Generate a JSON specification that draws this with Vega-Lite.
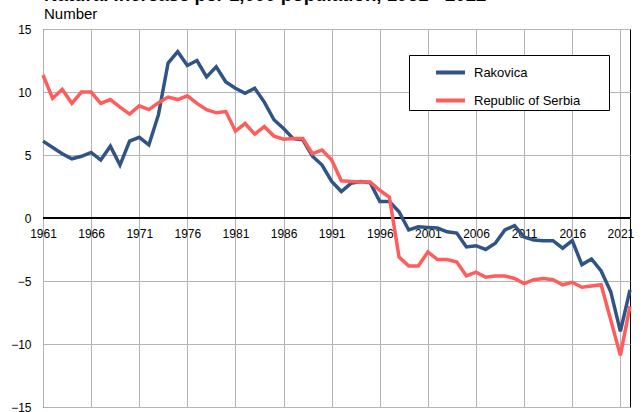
{
  "$schema": "https://vega.github.io/schema/vega-lite/v6.json",
  "width": 587,
  "height": 378,
  "autosize": "none",
  "padding": {"left": 43, "top": 29, "right": 14, "bottom": 5},
  "background": "white",
  "config": {
    "font": "Liberation Sans",
    "view": {"stroke": "#000000", "strokeWidth": 1}
  },
  "title": {
    "text": "Natural increase per 1,000 population, 1961 - 2022",
    "subtitle": "Number",
    "anchor": "start",
    "frame": "group",
    "dx": 1,
    "fontSize": 18.7,
    "fontWeight": "bold",
    "subtitleFontSize": 15,
    "subtitlePadding": 2,
    "subtitleColor": "#000000",
    "color": "#000000",
    "offset": 1
  },
  "data": {
    "values": [
      {"year": 1961, "region": "Rakovica", "value": 6.1},
      {"year": 1962, "region": "Rakovica", "value": 5.6},
      {"year": 1963, "region": "Rakovica", "value": 5.1},
      {"year": 1964, "region": "Rakovica", "value": 4.7},
      {"year": 1965, "region": "Rakovica", "value": 4.9},
      {"year": 1966, "region": "Rakovica", "value": 5.2},
      {"year": 1967, "region": "Rakovica", "value": 4.6},
      {"year": 1968, "region": "Rakovica", "value": 5.7},
      {"year": 1969, "region": "Rakovica", "value": 4.2},
      {"year": 1970, "region": "Rakovica", "value": 6.1},
      {"year": 1971, "region": "Rakovica", "value": 6.4},
      {"year": 1972, "region": "Rakovica", "value": 5.8},
      {"year": 1973, "region": "Rakovica", "value": 8.2},
      {"year": 1974, "region": "Rakovica", "value": 12.3},
      {"year": 1975, "region": "Rakovica", "value": 13.2},
      {"year": 1976, "region": "Rakovica", "value": 12.1},
      {"year": 1977, "region": "Rakovica", "value": 12.5},
      {"year": 1978, "region": "Rakovica", "value": 11.2},
      {"year": 1979, "region": "Rakovica", "value": 12.0},
      {"year": 1980, "region": "Rakovica", "value": 10.8},
      {"year": 1981, "region": "Rakovica", "value": 10.3},
      {"year": 1982, "region": "Rakovica", "value": 9.9},
      {"year": 1983, "region": "Rakovica", "value": 10.3},
      {"year": 1984, "region": "Rakovica", "value": 9.2},
      {"year": 1985, "region": "Rakovica", "value": 7.8},
      {"year": 1986, "region": "Rakovica", "value": 7.1},
      {"year": 1987, "region": "Rakovica", "value": 6.3},
      {"year": 1988, "region": "Rakovica", "value": 6.2},
      {"year": 1989, "region": "Rakovica", "value": 4.9},
      {"year": 1990, "region": "Rakovica", "value": 4.2},
      {"year": 1991, "region": "Rakovica", "value": 2.9},
      {"year": 1992, "region": "Rakovica", "value": 2.1},
      {"year": 1993, "region": "Rakovica", "value": 2.75},
      {"year": 1994, "region": "Rakovica", "value": 2.9},
      {"year": 1995, "region": "Rakovica", "value": 2.8},
      {"year": 1996, "region": "Rakovica", "value": 1.3},
      {"year": 1997, "region": "Rakovica", "value": 1.3},
      {"year": 1998, "region": "Rakovica", "value": 0.5},
      {"year": 1999, "region": "Rakovica", "value": -0.95},
      {"year": 2000, "region": "Rakovica", "value": -0.7},
      {"year": 2001, "region": "Rakovica", "value": -0.75},
      {"year": 2002, "region": "Rakovica", "value": -0.8},
      {"year": 2003, "region": "Rakovica", "value": -1.1},
      {"year": 2004, "region": "Rakovica", "value": -1.2},
      {"year": 2005, "region": "Rakovica", "value": -2.3},
      {"year": 2006, "region": "Rakovica", "value": -2.2},
      {"year": 2007, "region": "Rakovica", "value": -2.5},
      {"year": 2008, "region": "Rakovica", "value": -2.0},
      {"year": 2009, "region": "Rakovica", "value": -0.95},
      {"year": 2010, "region": "Rakovica", "value": -0.6},
      {"year": 2011, "region": "Rakovica", "value": -1.5},
      {"year": 2012, "region": "Rakovica", "value": -1.75},
      {"year": 2013, "region": "Rakovica", "value": -1.8},
      {"year": 2014, "region": "Rakovica", "value": -1.8},
      {"year": 2015, "region": "Rakovica", "value": -2.4},
      {"year": 2016, "region": "Rakovica", "value": -1.8},
      {"year": 2017, "region": "Rakovica", "value": -3.7},
      {"year": 2018, "region": "Rakovica", "value": -3.25},
      {"year": 2019, "region": "Rakovica", "value": -4.2},
      {"year": 2020, "region": "Rakovica", "value": -5.85},
      {"year": 2021, "region": "Rakovica", "value": -9.0},
      {"year": 2022, "region": "Rakovica", "value": -5.7},
      {"year": 1961, "region": "Republic of Serbia", "value": 11.35},
      {"year": 1962, "region": "Republic of Serbia", "value": 9.5},
      {"year": 1963, "region": "Republic of Serbia", "value": 10.2},
      {"year": 1964, "region": "Republic of Serbia", "value": 9.1},
      {"year": 1965, "region": "Republic of Serbia", "value": 10.0},
      {"year": 1966, "region": "Republic of Serbia", "value": 10.0},
      {"year": 1967, "region": "Republic of Serbia", "value": 9.1},
      {"year": 1968, "region": "Republic of Serbia", "value": 9.4},
      {"year": 1969, "region": "Republic of Serbia", "value": 8.8},
      {"year": 1970, "region": "Republic of Serbia", "value": 8.25},
      {"year": 1971, "region": "Republic of Serbia", "value": 8.9},
      {"year": 1972, "region": "Republic of Serbia", "value": 8.6},
      {"year": 1973, "region": "Republic of Serbia", "value": 9.15},
      {"year": 1974, "region": "Republic of Serbia", "value": 9.6},
      {"year": 1975, "region": "Republic of Serbia", "value": 9.4},
      {"year": 1976, "region": "Republic of Serbia", "value": 9.7},
      {"year": 1977, "region": "Republic of Serbia", "value": 9.1},
      {"year": 1978, "region": "Republic of Serbia", "value": 8.6},
      {"year": 1979, "region": "Republic of Serbia", "value": 8.35},
      {"year": 1980, "region": "Republic of Serbia", "value": 8.45},
      {"year": 1981, "region": "Republic of Serbia", "value": 6.9},
      {"year": 1982, "region": "Republic of Serbia", "value": 7.5},
      {"year": 1983, "region": "Republic of Serbia", "value": 6.65},
      {"year": 1984, "region": "Republic of Serbia", "value": 7.25},
      {"year": 1985, "region": "Republic of Serbia", "value": 6.5},
      {"year": 1986, "region": "Republic of Serbia", "value": 6.25},
      {"year": 1987, "region": "Republic of Serbia", "value": 6.3},
      {"year": 1988, "region": "Republic of Serbia", "value": 6.3},
      {"year": 1989, "region": "Republic of Serbia", "value": 5.1},
      {"year": 1990, "region": "Republic of Serbia", "value": 5.4},
      {"year": 1991, "region": "Republic of Serbia", "value": 4.6},
      {"year": 1992, "region": "Republic of Serbia", "value": 2.95},
      {"year": 1993, "region": "Republic of Serbia", "value": 2.9},
      {"year": 1994, "region": "Republic of Serbia", "value": 2.85},
      {"year": 1995, "region": "Republic of Serbia", "value": 2.85},
      {"year": 1996, "region": "Republic of Serbia", "value": 2.2},
      {"year": 1997, "region": "Republic of Serbia", "value": 1.65},
      {"year": 1998, "region": "Republic of Serbia", "value": -3.1},
      {"year": 1999, "region": "Republic of Serbia", "value": -3.8},
      {"year": 2000, "region": "Republic of Serbia", "value": -3.8},
      {"year": 2001, "region": "Republic of Serbia", "value": -2.7},
      {"year": 2002, "region": "Republic of Serbia", "value": -3.3},
      {"year": 2003, "region": "Republic of Serbia", "value": -3.3},
      {"year": 2004, "region": "Republic of Serbia", "value": -3.5},
      {"year": 2005, "region": "Republic of Serbia", "value": -4.6},
      {"year": 2006, "region": "Republic of Serbia", "value": -4.3},
      {"year": 2007, "region": "Republic of Serbia", "value": -4.7},
      {"year": 2008, "region": "Republic of Serbia", "value": -4.6},
      {"year": 2009, "region": "Republic of Serbia", "value": -4.6},
      {"year": 2010, "region": "Republic of Serbia", "value": -4.8},
      {"year": 2011, "region": "Republic of Serbia", "value": -5.2},
      {"year": 2012, "region": "Republic of Serbia", "value": -4.9},
      {"year": 2013, "region": "Republic of Serbia", "value": -4.8},
      {"year": 2014, "region": "Republic of Serbia", "value": -4.9},
      {"year": 2015, "region": "Republic of Serbia", "value": -5.3},
      {"year": 2016, "region": "Republic of Serbia", "value": -5.1},
      {"year": 2017, "region": "Republic of Serbia", "value": -5.5},
      {"year": 2018, "region": "Republic of Serbia", "value": -5.4},
      {"year": 2019, "region": "Republic of Serbia", "value": -5.3},
      {"year": 2020, "region": "Republic of Serbia", "value": -8.1},
      {"year": 2021, "region": "Republic of Serbia", "value": -10.9},
      {"year": 2022, "region": "Republic of Serbia", "value": -7.0}
    ]
  },
  "layer": [
    {
      "mark": {"type": "rule", "color": "#000000", "strokeWidth": 1},
      "encoding": {"y": {"datum": 0, "type": "quantitative"}}
    },
    {
      "mark": {"type": "line", "strokeWidth": 3.5, "strokeJoin": "miter"},
      "encoding": {
        "x": {
          "field": "year",
          "type": "quantitative",
          "scale": {"domain": [1961, 2022], "nice": false, "zero": false},
          "axis": {
            "title": null,
            "values": [1961, 1966, 1971, 1976, 1981, 1986, 1991, 1996, 2001, 2006, 2011, 2016, 2021],
            "format": "d",
            "domain": false,
            "ticks": false,
            "tickSize": 0,
            "offset": -189,
            "labelPadding": 10,
            "labelFontSize": 12,
            "labelColor": "#000000",
            "labelFlush": false,
            "labelOverlap": false,
            "grid": true,
            "gridColor": "#b4b4b4",
            "gridWidth": 1
          }
        },
        "y": {
          "field": "value",
          "type": "quantitative",
          "scale": {"domain": [-15, 15], "nice": false},
          "axis": {
            "title": null,
            "values": [-15, -10, -5, 0, 5, 10, 15],
            "domain": false,
            "ticks": false,
            "tickSize": 0,
            "labelPadding": 12,
            "labelFontSize": 12,
            "labelColor": "#000000",
            "labelFlush": false,
            "grid": true,
            "gridColor": "#b4b4b4",
            "gridWidth": 1
          }
        },
        "color": {
          "field": "region",
          "type": "nominal",
          "scale": {"domain": ["Rakovica", "Republic of Serbia"], "range": ["#2f5485", "#ff5c5c"]},
          "legend": {
            "title": "\u00a0",
            "titleOrient": "right",
            "titlePadding": 28,
            "titleFontSize": 13,
            "orient": "none",
            "legendX": 366,
            "legendY": 26,
            "direction": "vertical",
            "strokeColor": "#000000",
            "fillColor": "#ffffff",
            "padding": 1,
            "symbolType": "stroke",
            "symbolSize": 841,
            "symbolStrokeWidth": 4,
            "symbolOffset": 24,
            "labelOffset": 7,
            "rowPadding": 3,
            "labelFontSize": 13,
            "labelLimit": 400,
            "labelColor": "#000000"
          }
        }
      }
    }
  ]
}
